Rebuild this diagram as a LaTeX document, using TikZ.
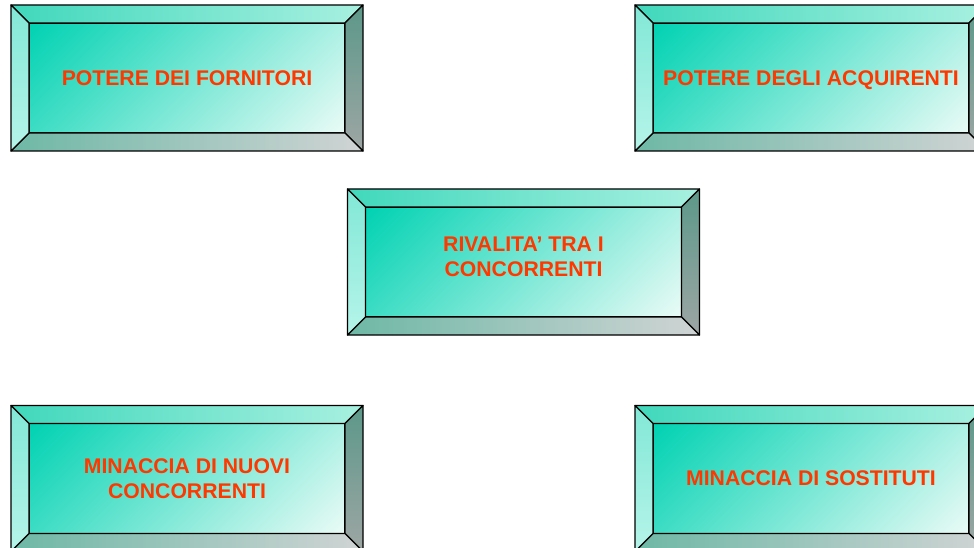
\documentclass[tikz,border=0pt]{standalone}
\usepackage{fontspec}
\setmainfont{Liberation Sans}
\usetikzlibrary{calc, positioning}

\definecolor{inA}{RGB}{0,210,178}
\definecolor{inB}{RGB}{234,251,246}
\definecolor{topL}{RGB}{64,216,188}
\definecolor{topR}{RGB}{168,240,224}
\definecolor{leftT}{RGB}{130,232,215}
\definecolor{leftB}{RGB}{182,244,233}
\definecolor{rightT}{RGB}{92,152,137}
\definecolor{rightB}{RGB}{158,166,164}
\definecolor{botL}{RGB}{110,184,166}
\definecolor{botR}{RGB}{208,212,212}
\definecolor{txtred}{RGB}{255,56,0}

% spread over the whole diagonal of the panel
\pgfdeclareverticalshading{panelshade}{100bp}{color(0bp)=(inB); color(14.6bp)=(inB);
  color(85.4bp)=(inA); color(100bp)=(inA)}

\begin{document}
\begin{tikzpicture}[x=1pt, y=1pt,
  panel/.style={draw, line width=1.2pt, minimum width=316pt, minimum height=110pt,
    inner sep=0pt, outer sep=0pt, shading=panelshade, shading angle=45},
  bevel/.style={draw, line width=1.2pt, line join=round},
  txt/.style={text=txtred, font=\bfseries\fontsize{21.2}{25}\selectfont, align=center}]

\clip (0,0) rectangle (974,547);

%\node[panel] (forn) at (187,469) {POTERE DEI FORNITORI};
\node[panel] (forn) at (187,469) {};
\node[panel] (acq) at (811,469) {};
\node[panel] (riv) at (523.5,285) {};
\node[panel] (nuovi) at (187,68.5) {};
\node[panel] (sost) at (811,68.5) {};

\foreach \p in {forn, acq, riv, nuovi, sost} {
  \coordinate (\p-a) at ($(\p.north west)+(-18,18)$);
  \coordinate (\p-b) at ($(\p.north east)+(18,18)$);
  \coordinate (\p-c) at ($(\p.south east)+(18,-18)$);
  \coordinate (\p-d) at ($(\p.south west)+(-18,-18)$);
  \draw[bevel, left color=topL, right color=topR]
    (\p-a) -- (\p-b) -- (\p.north east) -- (\p.north west) -- cycle;
  \draw[bevel, top color=rightT, bottom color=rightB]
    (\p-b) -- (\p-c) -- (\p.south east) -- (\p.north east) -- cycle;
  \draw[bevel, left color=botL, right color=botR]
    (\p-d) -- (\p-c) -- (\p.south east) -- (\p.south west) -- cycle;
  \draw[bevel, top color=leftT, bottom color=leftB]
    (\p-a) -- (\p-d) -- (\p.south west) -- (\p.north west) -- cycle;
}

\node[txt] (forn-t) at (forn) {POTERE DEI FORNITORI};
\node[txt] (acq-t) at ([yshift=-2pt]acq) {POTERE DEGLI ACQUIRENTI};
\node[txt] (riv-t) at ([yshift=5pt]riv) {RIVALITA’ TRA I\\CONCORRENTI};
\node[txt] (nuovi-t) at (nuovi) {MINACCIA DI NUOVI\\CONCORRENTI};
\node[txt] (sost-t) at (sost) {MINACCIA DI SOSTITUTI};

\end{tikzpicture}
\end{document}
